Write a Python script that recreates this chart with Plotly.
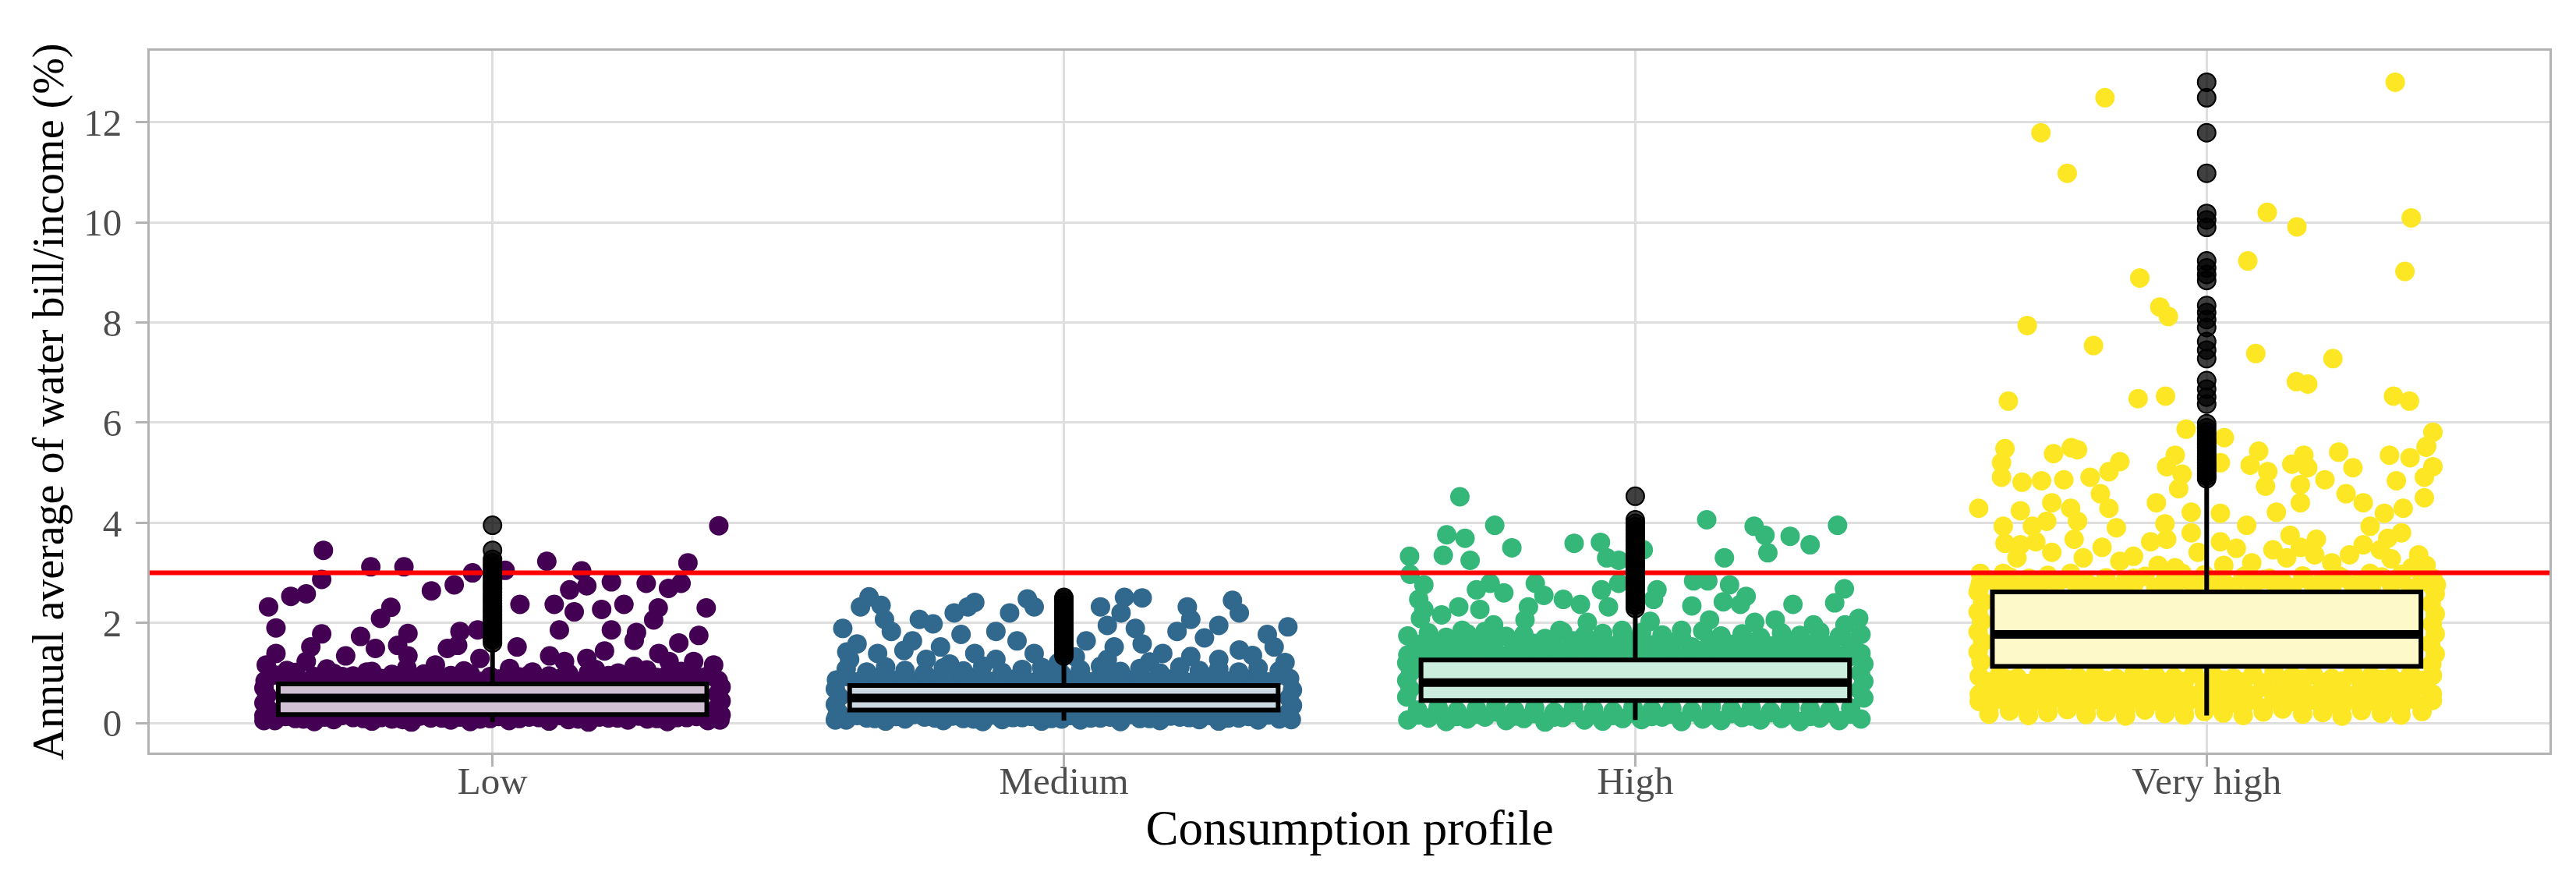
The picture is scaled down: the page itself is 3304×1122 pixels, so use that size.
import plotly.graph_objects as go

categories = ["Low", "Medium", "High", "Very high"]
point_colors = ["#440154", "#31688E", "#35B779", "#FDE725"]
box_fills = ["#D1C0D4", "#CCD9E3", "#CBEDDD", "#FEF9C8"]

# box statistics
q1 = [0.17, 0.26, 0.45, 1.13]
median = [0.50, 0.50, 0.81, 1.77]
q3 = [0.78, 0.75, 1.26, 2.62]
lower_whisker = [0.02, 0.05, 0.06, 0.15]
upper_whisker = [1.55, 1.30, 2.25, 4.84]
threshold = 3

# outliers (drawn on the category centre)
low_out = [1.60, 1.66, 1.71, 1.77, 1.82, 1.88, 1.93, 1.99, 2.05, 2.10, 2.16, 2.22, 2.27, 2.33,
           2.39, 2.45, 2.50, 2.56, 2.62, 2.68, 2.74, 2.80, 2.87, 2.93, 3.00, 3.06, 3.13, 3.20,
           3.27, 3.45, 3.95]
med_out = [1.34, 1.39, 1.45, 1.50, 1.56, 1.61, 1.67, 1.72, 1.78, 1.84, 1.89, 1.95, 2.01, 2.07,
           2.12, 2.18, 2.24, 2.30, 2.36, 2.42, 2.47, 2.51]
high_out = [2.29, 2.35, 2.41, 2.47, 2.53, 2.59, 2.66, 2.72, 2.78, 2.85, 2.91, 2.98, 3.04, 3.11,
            3.17, 3.24, 3.31, 3.37, 3.44, 3.50, 3.57, 3.64, 3.71, 3.78, 3.85, 3.92, 3.99, 4.06, 4.53]
vhigh_out = [4.88, 4.93, 4.98, 5.04, 5.09, 5.15, 5.20, 5.26, 5.32, 5.38, 5.44, 5.50, 5.56, 5.62,
             5.68, 5.75, 5.82, 5.90, 5.98, 6.37, 6.51, 6.67, 6.84, 7.28, 7.45, 7.62, 7.90, 8.06,
             8.20, 8.34, 8.84, 8.96, 9.09, 9.23, 9.90, 10.05, 10.18, 10.98, 11.79, 12.49, 12.80]

# jittered observations: (horizontal jitter, value)
low_pts = [(0.396, 3.94), (-0.296, 3.45), (-0.213, 3.12), (-0.155, 3.12), (0.095, 3.23), (0.342, 3.20),
           (0.156, 3.04), (-0.035, 3.00), (-0.067, 2.76), (-0.299, 2.87), (-0.326, 2.58), (-0.353, 2.53),
           (-0.392, 2.32), (-0.107, 2.64), (0.022, 3.05), (0.048, 2.37), (0.108, 2.37), (0.135, 2.66),
           (0.165, 2.74), (0.208, 2.82), (0.269, 2.79), (0.308, 2.69), (0.330, 2.79), (0.230, 2.37),
           (0.143, 2.22), (0.191, 2.27), (0.290, 2.30), (0.282, 2.06), (0.374, 2.30), (-0.178, 2.31),
           (-0.196, 2.09), (-0.379, 1.90), (-0.299, 1.78), (-0.231, 1.73), (-0.148, 1.79), (-0.057, 1.83),
           (-0.026, 1.86), (0.117, 1.86), (0.208, 1.86), (0.252, 1.81), (0.361, 1.75), (0.326, 1.60),
           (0.043, 1.52), (0.248, 1.65), (-0.379, 1.39), (-0.318, 1.52), (-0.205, 1.49), (-0.166, 1.55),
           (-0.148, 1.34), (-0.257, 1.34), (-0.079, 1.49), (-0.061, 1.55), (0.196, 1.44), (0.100, 1.34),
           (0.126, 1.23), (0.165, 1.29), (0.291, 1.39), (0.309, 1.23), (0.387, 1.16), (-0.396, 1.16),
           (-0.326, 1.23), (-0.100, 1.16), (-0.022, 1.29), (0.248, 1.13), (0.352, 1.23),
           (-0.36, 1.05), (-0.29, 1.08), (-0.22, 1.02), (-0.15, 1.10), (-0.05, 1.04), (0.03, 1.09),
           (0.07, 1.02), (0.18, 1.07), (0.22, 1.00), (0.27, 1.06), (0.33, 1.03), (-0.12, 0.98), (0.13, 1.00),
           (-0.400, 0.70), (-0.395, 0.55), (-0.400, 0.40), (-0.392, 0.27), (-0.400, 0.15), (-0.400, 0.05),
           (0.400, 0.72), (0.394, 0.58), (0.400, 0.44), (0.393, 0.30), (0.400, 0.16), (0.398, 0.06)]

med_pts = [(-0.341, 2.52), (-0.320, 2.35), (-0.356, 2.32), (-0.387, 1.89), (-0.314, 2.07), (-0.302, 1.83),
           (-0.253, 2.07), (-0.229, 1.98), (-0.168, 2.32), (-0.156, 2.41), (-0.192, 2.20), (-0.180, 1.77),
           (-0.095, 2.20), (-0.064, 2.48), (-0.052, 2.32), (-0.119, 1.83), (-0.082, 1.64), (-0.362, 1.58),
           (-0.265, 1.64), (-0.216, 1.52), (-0.052, 1.39), (0.064, 2.32), (0.106, 2.51), (0.137, 2.50),
           (0.100, 2.20), (0.125, 1.89), (0.076, 1.95), (0.039, 1.64), (0.088, 1.52), (0.137, 1.58),
           (0.216, 2.32), (0.222, 2.07), (0.198, 1.83), (0.295, 2.45), (0.307, 2.20), (0.246, 1.70),
           (0.271, 1.95), (0.392, 1.92), (0.356, 1.77), (0.368, 1.52), (0.307, 1.46), (0.173, 1.39),
           (0.222, 1.33), (-0.375, 1.27), (-0.326, 1.39), (-0.241, 1.27), (-0.156, 1.39), (-0.119, 1.27),
           (0.076, 1.27), (0.271, 1.27), (0.387, 1.21), (-0.28, 1.45), (-0.01, 1.20), (0.02, 1.32),
           (0.33, 1.35), (-0.38, 1.42), (0.15, 1.22), (-0.20, 1.18),
           (-0.400, 0.68), (-0.393, 0.52), (-0.400, 0.37), (-0.395, 0.22), (-0.400, 0.06),
           (0.400, 0.66), (0.394, 0.50), (0.400, 0.35), (0.393, 0.21), (0.398, 0.07)]

high_pts = [(-0.307, 4.52), (-0.246, 3.95), (-0.330, 3.76), (-0.298, 3.69), (-0.216, 3.50), (-0.107, 3.59),
            (-0.061, 3.61), (-0.050, 3.30), (-0.336, 3.35), (-0.289, 3.25), (-0.395, 3.33), (0.125, 4.06),
            (0.208, 3.93), (0.227, 3.75), (0.271, 3.73), (0.306, 3.56), (0.354, 3.95), (0.232, 3.40),
            (0.156, 3.30), (-0.029, 3.25), (0.014, 3.46), (-0.394, 2.97), (-0.370, 2.76), (-0.278, 2.66),
            (-0.254, 2.79), (-0.230, 2.60), (-0.175, 2.79), (-0.160, 2.55), (-0.059, 2.66), (-0.029, 2.79),
            (0.038, 2.66), (0.102, 2.84), (0.127, 2.84), (0.165, 2.76), (0.194, 2.53), (0.366, 2.68),
            (-0.379, 2.47), (-0.370, 2.27), (-0.309, 2.32), (-0.272, 2.27), (-0.187, 2.32), (-0.126, 2.47),
            (-0.096, 2.37), (-0.047, 2.32), (0.032, 2.47), (0.099, 2.34), (0.154, 2.42), (0.184, 2.37),
            (0.276, 2.37), (0.349, 2.40), (0.391, 2.09), (-0.376, 2.09), (-0.339, 2.16), (-0.248, 1.96),
            (-0.193, 2.06), (-0.084, 2.01), (0.026, 2.03), (0.081, 1.85), (0.130, 2.06), (0.209, 2.01),
            (0.245, 2.06), (0.312, 1.96), (0.367, 1.96), (-0.303, 1.85), (-0.132, 1.85), (-0.023, 1.85),
            (-0.400, 1.20), (-0.393, 1.02), (-0.400, 0.85), (-0.394, 0.68), (-0.400, 0.52),
            (0.400, 1.18), (0.394, 1.00), (0.400, 0.83), (0.393, 0.66), (0.400, 0.50)]

vhigh_pts = [(0.330, 12.80), (-0.178, 12.49), (-0.290, 11.79), (-0.244, 10.98), (0.106, 10.20), (0.358, 10.09),
             (0.158, 9.91), (0.072, 9.23), (0.347, 9.02), (-0.117, 8.89), (-0.082, 8.31), (-0.067, 8.12),
             (-0.314, 7.94), (-0.198, 7.54), (0.086, 7.38), (0.221, 7.28), (0.157, 6.82), (0.177, 6.77),
             (0.327, 6.53), (0.355, 6.43), (-0.347, 6.43), (-0.120, 6.48), (-0.072, 6.53), (-0.036, 5.87),
             (0.396, 5.81), (0.385, 5.53), (0.031, 5.70), (-0.237, 5.50),
             (-0.353, 5.48), (-0.268, 5.38), (-0.226, 5.46), (-0.152, 5.22), (-0.055, 5.35), (0.024, 5.20),
             (0.091, 5.43), (0.170, 5.35), (0.231, 5.41), (0.320, 5.35), (0.356, 5.30), (0.384, 5.51),
             (-0.359, 5.20), (-0.359, 4.91), (-0.323, 4.81), (-0.289, 4.84), (-0.250, 4.86), (-0.204, 4.91),
             (-0.171, 5.02), (-0.070, 5.12), (-0.043, 4.97), (-0.049, 4.68), (0.076, 5.15), (0.107, 5.02),
             (0.103, 4.73), (0.149, 5.17), (0.177, 5.10), (0.207, 4.86), (0.164, 4.76), (0.256, 5.10),
             (0.396, 5.12), (0.332, 4.84), (0.381, 4.91), (0.244, 4.58), (0.274, 4.40), (0.164, 4.40),
             (0.381, 4.50), (0.311, 4.19), (0.344, 4.29), (-0.399, 4.29), (-0.326, 4.24), (-0.271, 4.40),
             (-0.238, 4.29), (-0.186, 4.58), (-0.171, 4.29), (-0.088, 4.40), (-0.027, 4.21), (0.024, 4.19),
             (0.122, 4.21),
             (-0.356, 3.93), (-0.305, 3.93), (-0.280, 4.03), (-0.226, 4.03), (-0.158, 3.90), (-0.073, 3.98),
             (-0.027, 3.80), (0.070, 3.95), (0.146, 3.75), (0.192, 3.67), (0.286, 3.93), (0.341, 3.80),
             (0.317, 3.69), (-0.353, 3.59), (-0.326, 3.56), (-0.299, 3.62), (-0.232, 3.67), (-0.183, 3.51),
             (-0.098, 3.62), (-0.070, 3.67), (-0.015, 3.41), (0.024, 3.62), (0.052, 3.49), (0.116, 3.46),
             (0.164, 3.51), (0.219, 3.20), (0.250, 3.36), (0.274, 3.56), (0.304, 3.46), (0.371, 3.36),
             (-0.332, 3.30), (-0.271, 3.41), (-0.216, 3.30), (-0.152, 3.23), (-0.128, 3.33), (-0.085, 3.15),
             (-0.055, 3.10), (0.030, 3.15), (0.079, 3.20), (0.140, 3.30), (0.189, 3.36), (0.323, 3.28),
             (-0.396, 2.99), (-0.356, 2.99), (-0.396, 2.79), (-0.311, 2.89), (-0.238, 2.99), (-0.177, 2.76),
             (-0.128, 2.89), (-0.073, 2.84), (-0.031, 2.84), (0.024, 2.89), (0.067, 2.94), (0.110, 2.89),
             (0.170, 2.89), (0.231, 2.94), (0.286, 2.99), (0.341, 2.97), (0.396, 2.89), (0.402, 2.76),
             (-0.317, 2.79), (-0.043, 2.99), (0.359, 3.10), (0.384, 3.15),
             (-0.400, 2.62), (-0.392, 2.42), (-0.400, 2.22), (-0.394, 2.03), (-0.400, 1.82), (-0.392, 1.62),
             (-0.400, 1.42), (-0.395, 1.22), (0.400, 2.58), (0.393, 2.38), (0.400, 2.18), (0.395, 1.98),
             (0.400, 1.78), (0.392, 1.58), (0.400, 1.38), (0.394, 1.18)]

# dense bands of overlapping points: shared jitter offsets, one value per point
grid_a = [-0.398, -0.362, -0.331, -0.294, -0.263, -0.226, -0.195, -0.158, -0.127, -0.089, -0.057, -0.022,
          0.011, 0.047, 0.081, 0.118, 0.150, 0.187, 0.219, 0.256, 0.288, 0.323, 0.357, 0.395]
grid_b = [-0.381, -0.345, -0.312, -0.278, -0.244, -0.211, -0.176, -0.142, -0.108, -0.073, -0.039, -0.004,
          0.029, 0.064, 0.099, 0.133, 0.168, 0.203, 0.237, 0.271, 0.306, 0.340, 0.377]

low_band_top = [0.84, 0.90, 0.83, 0.88, 0.93, 0.85, 0.89, 0.82, 0.91, 0.86, 0.94, 0.83,
                0.88, 0.92, 0.85, 0.89, 0.83, 0.95, 0.87, 0.84, 0.91, 0.86, 0.93, 0.85]
low_band_mid = [0.96, 1.01, 0.93, 0.99, 0.94, 1.03, 0.97, 0.92, 1.00, 0.95, 0.98, 0.93,
                1.02, 0.96, 0.94, 0.99, 1.01, 0.95, 0.92, 0.98, 0.96, 1.00, 0.94]
low_band_bot = [0.05, 0.09, 0.03, 0.07, 0.11, 0.04, 0.08, 0.02, 0.10, 0.06, 0.03, 0.09,
                0.05, 0.12, 0.04, 0.07, 0.02, 0.10, 0.06, 0.08, 0.03, 0.11, 0.05]
low_band_bot2 = [0.10, 0.13, 0.08, 0.12, 0.15, 0.09, 0.11, 0.07, 0.14, 0.10, 0.12, 0.08,
                 0.13, 0.09, 0.11, 0.15, 0.08, 0.12, 0.10, 0.14, 0.09, 0.11, 0.13, 0.10]

med_band_1 = [0.86, 0.82, 0.90, 0.85, 0.80, 0.88, 0.84, 0.91, 0.83, 0.87, 0.81, 0.89,
              0.85, 0.82, 0.90, 0.86, 0.83, 0.88, 0.81, 0.92, 0.84, 0.87, 0.82, 0.89]
med_band_1b = [0.93, 0.97, 0.90, 0.95, 0.99, 0.91, 0.96, 0.89, 0.98, 0.92, 0.94, 0.90,
               0.97, 0.93, 0.91, 0.96, 0.99, 0.92, 0.95, 0.90, 0.97, 0.93, 0.96]
med_band_2 = [1.08, 1.02, 1.12, 1.05, 0.99, 1.10, 1.04, 1.14, 1.01, 1.07, 1.11, 0.98,
              1.06, 1.13, 1.03, 1.09, 1.00, 1.12, 1.05, 1.08, 1.02, 1.10, 1.04]
med_band_bot = [0.06, 0.10, 0.04, 0.08, 0.12, 0.05, 0.09, 0.03, 0.07, 0.11, 0.04, 0.08,
                0.06, 0.10, 0.03, 0.09, 0.05, 0.12, 0.07, 0.04, 0.10, 0.06, 0.08]
med_band_bot2 = [0.12, 0.15, 0.09, 0.13, 0.17, 0.10, 0.14, 0.08, 0.16, 0.11, 0.13, 0.09,
                 0.15, 0.10, 0.12, 0.17, 0.09, 0.14, 0.11, 0.15, 0.10, 0.13, 0.16, 0.12]

high_band_1 = [1.36, 1.42, 1.33, 1.40, 1.45, 1.35, 1.39, 1.31, 1.44, 1.37, 1.41, 1.34,
               1.43, 1.38, 1.32, 1.46, 1.36, 1.40, 1.33, 1.42, 1.37, 1.44, 1.35, 1.39]
high_band_2 = [1.57, 1.62, 1.53, 1.60, 1.66, 1.55, 1.59, 1.51, 1.64, 1.58, 1.54, 1.63,
               1.56, 1.61, 1.52, 1.65, 1.57, 1.60, 1.54, 1.62, 1.58, 1.55, 1.61]
high_band_3 = [1.74, 1.80, 1.71, 1.78, 1.83, 1.73, 1.77, 1.69, 1.82, 1.75, 1.79, 1.72,
               1.81, 1.76, 1.70, 1.84, 1.74, 1.78, 1.71, 1.80, 1.75, 1.82, 1.73, 1.77]
high_band_3b = [1.30, 1.34, 1.27, 1.32, 1.36, 1.28, 1.33, 1.26, 1.35, 1.29, 1.31, 1.27,
                1.34, 1.30, 1.28, 1.33, 1.36, 1.29, 1.32, 1.27, 1.35, 1.30, 1.33]
high_band_4 = [0.26, 0.31, 0.24, 0.29, 0.33, 0.25, 0.30, 0.22, 0.32, 0.27, 0.23, 0.31,
               0.26, 0.29, 0.24, 0.33, 0.27, 0.30, 0.23, 0.31, 0.28, 0.25, 0.30]
high_band_5 = [0.06, 0.10, 0.03, 0.08, 0.12, 0.05, 0.09, 0.02, 0.11, 0.06, 0.04, 0.09,
               0.07, 0.12, 0.03, 0.08, 0.05, 0.11, 0.06, 0.09, 0.03, 0.10, 0.05, 0.08]
high_band_6 = [0.16, 0.20, 0.13, 0.18, 0.22, 0.14, 0.19, 0.12, 0.21, 0.17, 0.15, 0.20,
               0.13, 0.18, 0.22, 0.16, 0.19, 0.14, 0.21, 0.17, 0.13, 0.20, 0.18]

vhigh_band_top = [2.70, 2.76, 2.67, 2.74, 2.79, 2.69, 2.73, 2.66, 2.78, 2.71, 2.75, 2.68,
                  2.77, 2.72, 2.66, 2.80, 2.70, 2.74, 2.67, 2.76, 2.71, 2.78, 2.69, 2.73]
vhigh_band_top2 = [2.86, 2.92, 2.83, 2.95, 2.88, 2.82, 2.90, 2.85, 2.93, 2.84, 2.89, 2.96,
                   2.83, 2.91, 2.87, 2.82, 2.94, 2.86, 2.90, 2.84, 2.92, 2.88, 2.85]
vhigh_band_1 = [0.93, 0.98, 0.90, 0.96, 1.01, 0.92, 0.97, 0.89, 1.00, 0.94, 0.91, 0.99,
                0.95, 0.90, 0.97, 1.02, 0.93, 0.96, 0.89, 0.99, 0.94, 0.91, 0.98, 0.95]
vhigh_band_1b = [0.82, 0.86, 0.79, 0.84, 0.88, 0.80, 0.85, 0.78, 0.87, 0.81, 0.83, 0.79,
                 0.86, 0.82, 0.80, 0.85, 0.88, 0.81, 0.84, 0.79, 0.87, 0.82, 0.85]
vhigh_band_2 = [0.68, 0.73, 0.65, 0.71, 0.76, 0.67, 0.72, 0.64, 0.75, 0.69, 0.66, 0.74,
                0.70, 0.65, 0.72, 0.77, 0.68, 0.71, 0.64, 0.74, 0.69, 0.66, 0.73]
vhigh_band_2b = [0.57, 0.61, 0.54, 0.59, 0.63, 0.55, 0.60, 0.53, 0.62, 0.56, 0.58, 0.54,
                 0.61, 0.57, 0.55, 0.60, 0.63, 0.56, 0.59, 0.54, 0.62, 0.57, 0.60, 0.58]
vhigh_band_3 = [0.43, 0.48, 0.40, 0.46, 0.51, 0.42, 0.47, 0.39, 0.50, 0.44, 0.41, 0.49,
                0.45, 0.40, 0.47, 0.52, 0.43, 0.46, 0.39, 0.49, 0.44, 0.41, 0.48, 0.45]
vhigh_band_3b = [0.32, 0.36, 0.29, 0.34, 0.38, 0.30, 0.35, 0.28, 0.37, 0.31, 0.33, 0.29,
                 0.36, 0.32, 0.30, 0.35, 0.38, 0.31, 0.34, 0.29, 0.37, 0.32, 0.35]
vhigh_band_4 = [0.18, 0.24, 0.15, 0.21, 0.27, 0.17, 0.22, 0.14, 0.26, 0.19, 0.16, 0.23,
                0.20, 0.15, 0.22, 0.28, 0.18, 0.21, 0.14, 0.25, 0.19, 0.16, 0.23]

groups = [
    (low_pts, [(grid_a, low_band_top), (grid_b, low_band_mid), (grid_b, low_band_bot),
               (grid_a, low_band_bot2)], low_out),
    (med_pts, [(grid_a, med_band_1), (grid_b, med_band_1b), (grid_b, med_band_2),
               (grid_b, med_band_bot), (grid_a, med_band_bot2)], med_out),
    (high_pts, [(grid_b, high_band_3b), (grid_a, high_band_1), (grid_b, high_band_2),
                (grid_a, high_band_3), (grid_b, high_band_4), (grid_a, high_band_5),
                (grid_b, high_band_6)], high_out),
    (vhigh_pts, [(grid_a, vhigh_band_top), (grid_b, vhigh_band_top2), (grid_a, vhigh_band_1),
                 (grid_b, vhigh_band_1b), (grid_b, vhigh_band_2), (grid_a, vhigh_band_2b),
                 (grid_a, vhigh_band_3), (grid_b, vhigh_band_3b), (grid_b, vhigh_band_4)], vhigh_out),
]

x_range = [-0.6, 3.6]
y_range = [-0.59, 13.43]
box_width = 0.75
font = "Liberation Serif"

fig = go.Figure()

# jittered points on the base axes
for i, (pts, bands, outs) in enumerate(groups):
    xs = [i + d for d, _ in pts]
    ys = [v for _, v in pts]
    for dxs, vals in bands:
        xs += [i + d for d in dxs]
        ys += vals
    fig.add_trace(go.Scatter(x=xs, y=ys, mode="markers", hoverinfo="skip",
                             marker=dict(size=25, color=point_colors[i], line=dict(width=0))))

# reference line
fig.add_trace(go.Scatter(x=x_range, y=[threshold, threshold], mode="lines",
                         line=dict(color="#FF0000", width=6), hoverinfo="skip"))

# boxes + outliers on an overlaid pair of axes so they sit above the points
for i, (pts, bands, outs) in enumerate(groups):
    fig.add_trace(go.Box(x=[i], q1=[q1[i]], median=[median[i]], q3=[q3[i]],
                         lowerfence=[lower_whisker[i]], upperfence=[upper_whisker[i]],
                         width=box_width, whiskerwidth=0, boxpoints=False,
                         fillcolor=box_fills[i], line=dict(color="black", width=6),
                         xaxis="x2", yaxis="y2", hoverinfo="skip"))
    # thicker median bar, as in the original
    fig.add_trace(go.Scatter(x=[i - box_width / 2, i + box_width / 2], y=[median[i], median[i]],
                             mode="lines", line=dict(color="black", width=11),
                             xaxis="x2", yaxis="y2", hoverinfo="skip"))
    fig.add_trace(go.Scatter(x=[i] * len(outs), y=outs, mode="markers", xaxis="x2", yaxis="y2",
                             marker=dict(size=23, color="rgba(0,0,0,0.75)",
                                         line=dict(color="black", width=2)),
                             hoverinfo="skip"))

axis_style = dict(showgrid=True, gridcolor="#DEDEDE", gridwidth=3, zeroline=False,
                  showline=True, mirror=True, linecolor="#B3B3B3", linewidth=3,
                  ticks="outside", ticklen=15, tickwidth=3, tickcolor="#B3B3B3",
                  tickfont=dict(family=font, size=49, color="#4D4D4D"))

fig.update_layout(
    width=3304, height=1122,
    margin=dict(l=184, r=42, t=57, b=165),
    paper_bgcolor="white", plot_bgcolor="white",
    showlegend=False, boxmode="overlay",
    xaxis=dict(range=x_range, tickvals=[0, 1, 2, 3], ticktext=categories, ticklabelstandoff=-24,
               title=dict(text="Consumption profile", standoff=12,
                          font=dict(family=font, size=63, color="black")),
               **axis_style),
    yaxis=dict(range=y_range, tickvals=[0, 2, 4, 6, 8, 10, 12], ticklabelstandoff=8,
               title=dict(text="Annual average of water bill/income (%)", standoff=8,
                          font=dict(family=font, size=56, color="black")),
               **axis_style),
    xaxis2=dict(range=x_range, overlaying="x", visible=False),
    yaxis2=dict(range=y_range, overlaying="y", visible=False),
)

fig.write_html("out.html")
